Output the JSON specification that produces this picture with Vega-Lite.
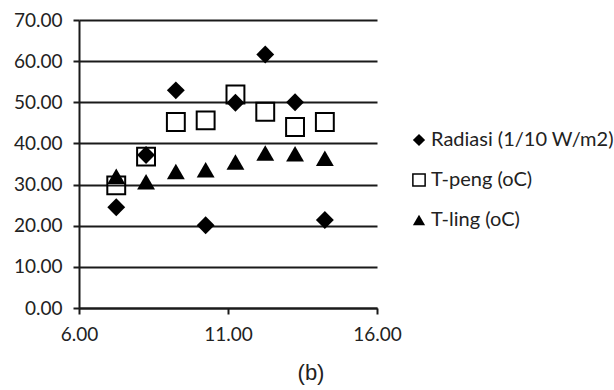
{
  "$schema": "https://vega.github.io/schema/vega-lite/v6.json",
  "autosize": "none",
  "width": 298,
  "height": 288,
  "padding": {"left": 79, "top": 20, "right": 237, "bottom": 82},
  "background": "white",
  "title": {
    "text": "(b)",
    "orient": "bottom",
    "anchor": "middle",
    "frame": "group",
    "dx": 83,
    "offset": 19,
    "font": "Liberation Sans",
    "fontSize": 22,
    "fontWeight": "normal",
    "color": "#222"
  },
  "data": {
    "values": [
      {"x": 7.25, "y": 24.5, "series": "Radiasi (1/10 W/m2)"},
      {"x": 8.25, "y": 37.2, "series": "Radiasi (1/10 W/m2)"},
      {"x": 9.25, "y": 52.9, "series": "Radiasi (1/10 W/m2)"},
      {"x": 10.25, "y": 20.1, "series": "Radiasi (1/10 W/m2)"},
      {"x": 11.25, "y": 49.9, "series": "Radiasi (1/10 W/m2)"},
      {"x": 12.25, "y": 61.6, "series": "Radiasi (1/10 W/m2)"},
      {"x": 13.25, "y": 50.0, "series": "Radiasi (1/10 W/m2)"},
      {"x": 14.25, "y": 21.4, "series": "Radiasi (1/10 W/m2)"},
      {"x": 7.25, "y": 29.8, "series": "T-peng (oC)"},
      {"x": 8.25, "y": 36.8, "series": "T-peng (oC)"},
      {"x": 9.25, "y": 45.2, "series": "T-peng (oC)"},
      {"x": 10.25, "y": 45.6, "series": "T-peng (oC)"},
      {"x": 11.25, "y": 51.9, "series": "T-peng (oC)"},
      {"x": 12.25, "y": 47.7, "series": "T-peng (oC)"},
      {"x": 13.25, "y": 44.0, "series": "T-peng (oC)"},
      {"x": 14.25, "y": 45.2, "series": "T-peng (oC)"},
      {"x": 7.25, "y": 32.0, "series": "T-ling (oC)"},
      {"x": 8.25, "y": 30.7, "series": "T-ling (oC)"},
      {"x": 9.25, "y": 33.2, "series": "T-ling (oC)"},
      {"x": 10.25, "y": 33.6, "series": "T-ling (oC)"},
      {"x": 11.25, "y": 35.5, "series": "T-ling (oC)"},
      {"x": 12.25, "y": 37.7, "series": "T-ling (oC)"},
      {"x": 13.25, "y": 37.5, "series": "T-ling (oC)"},
      {"x": 14.25, "y": 36.4, "series": "T-ling (oC)"}
    ]
  },
  "mark": {"type": "point", "filled": true, "strokeWidth": 2, "opacity": 1},
  "encoding": {
    "x": {
      "field": "x",
      "type": "quantitative",
      "scale": {"domain": [6, 16], "nice": false, "zero": false},
      "axis": {
        "values": [6, 11, 16],
        "format": ".2f",
        "title": null,
        "grid": false,
        "labelFlush": false,
        "labelOverlap": false,
        "domainColor": "#1a1a1a",
        "domainWidth": 2,
        "tickColor": "#1a1a1a",
        "tickWidth": 2,
        "tickSize": 6,
        "labelPadding": 11,
        "labelFont": "Lato",
        "labelFontSize": 19,
        "labelColor": "#222"
      }
    },
    "y": {
      "field": "y",
      "type": "quantitative",
      "scale": {"domain": [0, 70], "nice": false},
      "axis": {
        "values": [0, 10, 20, 30, 40, 50, 60, 70],
        "format": ".2f",
        "title": null,
        "grid": true,
        "labelFlush": false,
        "labelOverlap": false,
        "gridColor": "#1a1a1a",
        "gridWidth": 2,
        "gridOpacity": 1,
        "domainColor": "#1a1a1a",
        "domainWidth": 2,
        "tickColor": "#1a1a1a",
        "tickWidth": 2,
        "tickSize": 6,
        "labelPadding": 11,
        "labelFont": "Lato",
        "labelFontSize": 19,
        "labelColor": "#222"
      }
    },
    "shape": {
      "field": "series",
      "type": "nominal",
      "scale": {
        "domain": ["Radiasi (1/10 W/m2)", "T-peng (oC)", "T-ling (oC)"],
        "range": ["diamond", "square", "triangle-up"]
      },
      "legend": {
        "title": null,
        "orient": "none",
        "legendX": 330,
        "legendY": 110,
        "padding": 0,
        "rowPadding": 20,
        "labelFont": "Lato",
        "labelFontSize": 20,
        "labelColor": "#222",
        "labelOffset": 2,
        "labelLimit": 400,
        "symbolSize": 150,
        "symbolStrokeWidth": 1.5
      }
    },
    "fill": {
      "field": "series",
      "type": "nominal",
      "scale": {
        "domain": ["Radiasi (1/10 W/m2)", "T-peng (oC)", "T-ling (oC)"],
        "range": ["#000000", "rgba(0,0,0,0)", "#000000"]
      },
      "legend": {
        "title": null,
        "orient": "none",
        "legendX": 330,
        "legendY": 110,
        "padding": 0,
        "rowPadding": 20,
        "labelFont": "Lato",
        "labelFontSize": 20,
        "labelColor": "#222",
        "labelOffset": 2,
        "labelLimit": 400,
        "symbolSize": 150,
        "symbolStrokeWidth": 1.5
      }
    },
    "stroke": {
      "field": "series",
      "type": "nominal",
      "scale": {
        "domain": ["Radiasi (1/10 W/m2)", "T-peng (oC)", "T-ling (oC)"],
        "range": ["rgba(0,0,0,0)", "#000000", "rgba(0,0,0,0)"]
      },
      "legend": {
        "title": null,
        "orient": "none",
        "legendX": 330,
        "legendY": 110,
        "padding": 0,
        "rowPadding": 20,
        "labelFont": "Lato",
        "labelFontSize": 20,
        "labelColor": "#222",
        "labelOffset": 2,
        "labelLimit": 400,
        "symbolSize": 150,
        "symbolStrokeWidth": 1.5
      }
    },
    "size": {"value": 320}
  },
  "config": {"view": {"stroke": null}}
}
